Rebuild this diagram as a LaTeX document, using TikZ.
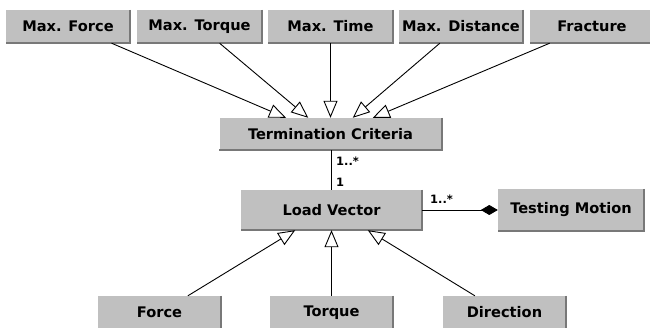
\documentclass[tikz,border=0pt]{standalone}
\usepackage{fontspec}
\setmainfont{DejaVu Sans}
\usetikzlibrary{arrows.meta,calc}
\definecolor{boxfill}{RGB}{192,192,192}
\definecolor{boxedge}{RGB}{120,120,120}
\begin{document}
\begin{tikzpicture}[x=1pt,y=-1pt,
  cls/.style={fill=boxfill, draw=none, inner sep=0pt,
    font=\fontsize{14.6}{16}\selectfont\bfseries},
  edgeshadow/.style={draw=boxedge, line width=1.6pt},
  gen/.style={draw=black, line width=0.9pt,
    -{Triangle[open,length=17pt,width=14pt,line width=0.9pt]}},
  assoc/.style={draw=black, line width=0.9pt},
  comp/.style={draw=black, line width=0.9pt,
    -{Diamond[length=17pt,width=10pt]}},
  mult/.style={inner sep=0pt, anchor=west,
    font=\fontsize{11.5}{12}\selectfont\bfseries}]
  \fill[white] (0,0) rectangle (650,328);
  \useasboundingbox (0,0) rectangle (650,328);

  % termination criteria
  \node[cls, minimum width=124pt, minimum height=33pt] (mf)  at (68,26.5)    {Max. Force};
  \node[cls, minimum width=125pt, minimum height=33pt] (mt)  at (199.5,26.5) {Max. Torque};
  \node[cls, minimum width=125pt, minimum height=33pt] (mti) at (330.5,26.5) {Max. Time};
  \node[cls, minimum width=124pt, minimum height=33pt] (md)  at (461,26.5)   {Max. Distance};
  \node[cls, minimum width=124pt, minimum height=33pt] (fr)  at (592,26.5)   {Fracture};
  \node[cls, minimum width=222pt, minimum height=32pt] (tc)  at (330.5,134)  {Termination Criteria};

  % load description
  \node[cls, minimum width=181pt, minimum height=40pt] (lv)  at (331.5,210)  {Load Vector};
  \node[cls, minimum width=146pt, minimum height=42pt] (tm)  at (571,210)    {Testing Motion};
  \node[cls, minimum width=123pt, minimum height=33pt] (fo)  at (159.5,312.5){Force};
  \node[cls, minimum width=123pt, minimum height=33pt] (to)  at (331.5,312.5){Torque};
  \node[cls, minimum width=123pt, minimum height=33pt] (di)  at (504.5,312.5){Direction};

  % darker right and bottom edges
  \foreach \n in {mf,mt,mti,md,fr,tc,lv,tm,fo,to,di}
    \draw[edgeshadow] (\n.north east) -- (\n.south east) -- (\n.south west);

  % generalisations into Termination Criteria
  \draw[gen] ($(mf.south west)!0.85!(mf.south east)$)   -- ($(tc.north west)!0.30!(tc.north east)$);
  \draw[gen] ($(mt.south west)!0.66!(mt.south east)$)   -- ($(tc.north west)!0.40!(tc.north east)$);
  \draw[gen] ($(mti.south west)!0.5!(mti.south east)$)  -- ($(tc.north west)!0.50!(tc.north east)$);
  \draw[gen] ($(md.south west)!0.33!(md.south east)$)   -- ($(tc.north west)!0.60!(tc.north east)$);
  \draw[gen] ($(fr.south west)!0.16!(fr.south east)$)   -- ($(tc.north west)!0.69!(tc.north east)$);

  % generalisations into Load Vector
  \draw[gen] ($(fo.north west)!0.73!(fo.north east)$) -- ($(lv.south west)!0.30!(lv.south east)$);
  \draw[gen] ($(to.north west)!0.5!(to.north east)$)  -- ($(lv.south west)!0.50!(lv.south east)$);
  \draw[gen] ($(di.north west)!0.26!(di.north east)$) -- ($(lv.south west)!0.70!(lv.south east)$);

  % associations
  \draw[assoc] (tc.south -| lv.north) -- (lv.north);
  \draw[comp] (lv.east) -- (tm.west);

  % multiplicities
  \node[mult] (m1) at (336,161) {1..*};
  \node[mult] (m2) at (336,182) {1};
  \node[mult] (m3) at (430,199) {1..*};
\end{tikzpicture}
\end{document}
